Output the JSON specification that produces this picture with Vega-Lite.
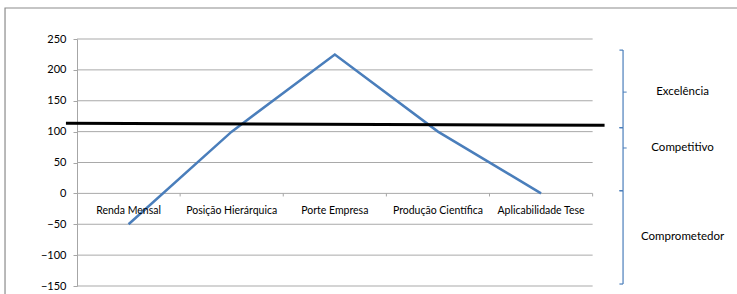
{
  "$schema": "https://vega.github.io/schema/vega-lite/v6.json",
  "width": 660,
  "height": 247,
  "autosize": {"type": "none"},
  "padding": {"left": 77, "top": 39, "right": 0, "bottom": 8},
  "background": "white",
  "config": {"view": {"stroke": null}, "font": "Lato", "text": {"font": "Lato"}},
  "resolve": {"axis": {"x": "independent", "y": "independent"}},
  "datasets": {
    "serie": [
      {"categoria": "Renda Mensal", "ordem": 1, "valor": -50},
      {"categoria": "Posição Hierárquica", "ordem": 2, "valor": 100},
      {"categoria": "Porte Empresa", "ordem": 3, "valor": 225},
      {"categoria": "Produção Científica", "ordem": 4, "valor": 100},
      {"categoria": "Aplicabilidade Tese", "ordem": 5, "valor": 0}
    ],
    "grade": [{"v": -150}, {"v": -100}, {"v": -50}, {"v": 0}, {"v": 50}, {"v": 100}, {"v": 150}, {"v": 200}, {"v": 250}],
    "limites": [{"x": 1.5}, {"x": 2.5}, {"x": 3.5}, {"x": 4.5}, {"x": 5.5}],
    "referencia": [{"ordem": 0.393, "valor": 113.5}, {"ordem": 5.616, "valor": 110.3}],
    "zonas": [
      {"zona": "Excelência", "topo": 232, "base": 106.4, "rotulo": 164},
      {"zona": "Competitivo", "topo": 106.4, "base": 4.3, "rotulo": 73.5},
      {"zona": "Comprometedor", "topo": 4.3, "base": -146.8, "rotulo": -70.6}
    ]
  },
  "layer": [
    {
      "data": {"values": [{}]},
      "mark": {"type": "rect", "fill": null, "stroke": "#8c8c8c", "strokeWidth": 1.2, "clip": false},
      "encoding": {
        "x": {"datum": -0.198, "type": "quantitative", "scale": {"domain": [0.5, 6.9], "nice": false, "zero": false}, "axis": null},
        "x2": {"datum": 7.5},
        "y": {"datum": 300.2, "type": "quantitative", "scale": {"domain": [-150, 250], "nice": false, "zero": false}, "axis": null},
        "y2": {"datum": -175}
      }
    },
    {
      "data": {"name": "grade"},
      "mark": {"type": "rule", "color": "#a9a9a9", "strokeWidth": 1},
      "encoding": {
        "y": {"field": "v", "type": "quantitative", "scale": {"domain": [-150, 250], "nice": false, "zero": false},
          "axis": {"values": [-150, -100, -50, 0, 50, 100, 150, 200, 250], "title": null, "grid": false,
            "domainColor": "#a6a6a6", "tickColor": "#a6a6a6", "tickSize": 4, "labelPadding": 7,
            "labelFont": "Lato", "labelFontSize": 11, "labelColor": "#000000"}},
        "x": {"datum": 0.5, "type": "quantitative", "scale": {"domain": [0.5, 6.9], "nice": false, "zero": false}, "axis": null},
        "x2": {"datum": 5.5}
      }
    },
    {
      "data": {"name": "limites"},
      "mark": {"type": "rule", "color": "#a6a6a6", "strokeWidth": 1},
      "encoding": {
        "x": {"field": "x", "type": "quantitative", "scale": {"domain": [0.5, 6.9], "nice": false, "zero": false}, "axis": null},
        "y": {"datum": 0, "type": "quantitative", "scale": {"domain": [-150, 250], "nice": false, "zero": false}, "axis": null},
        "y2": {"datum": -5}
      }
    },
    {
      "data": {"name": "serie"},
      "mark": {"type": "line", "color": "#4a7ebb", "strokeWidth": 2.5},
      "encoding": {
        "x": {"field": "ordem", "type": "quantitative", "scale": {"domain": [0.5, 6.9], "nice": false, "zero": false}, "axis": null},
        "y": {"field": "valor", "type": "quantitative", "scale": {"domain": [-150, 250], "nice": false, "zero": false}, "axis": null}
      }
    },
    {
      "data": {"name": "referencia"},
      "mark": {"type": "line", "color": "#000000", "strokeWidth": 3, "clip": false},
      "encoding": {
        "x": {"field": "ordem", "type": "quantitative", "scale": {"domain": [0.5, 6.9], "nice": false, "zero": false}, "axis": null},
        "y": {"field": "valor", "type": "quantitative", "scale": {"domain": [-150, 250], "nice": false, "zero": false}, "axis": null}
      }
    },
    {
      "data": {"name": "serie"},
      "mark": {"type": "text", "dy": 18, "fontSize": 10.5, "font": "Lato", "color": "#000000"},
      "encoding": {
        "x": {"field": "ordem", "type": "quantitative", "scale": {"domain": [0.5, 6.9], "nice": false, "zero": false}, "axis": null},
        "y": {"datum": 0, "type": "quantitative", "scale": {"domain": [-150, 250], "nice": false, "zero": false}, "axis": null},
        "text": {"field": "categoria"}
      }
    },
    {
      "data": {"name": "zonas"},
      "mark": {"type": "rule", "color": "#4a7ebb", "strokeWidth": 1.2},
      "encoding": {
        "x": {"datum": 5.795, "type": "quantitative", "scale": {"domain": [0.5, 6.9], "nice": false, "zero": false}, "axis": null},
        "y": {"field": "topo", "type": "quantitative", "scale": {"domain": [-150, 250], "nice": false, "zero": false}, "axis": null},
        "y2": {"field": "base"}
      }
    },
    {
      "data": {"name": "zonas"},
      "mark": {"type": "rule", "color": "#4a7ebb", "strokeWidth": 1.2},
      "encoding": {
        "x": {"datum": 5.76, "type": "quantitative", "scale": {"domain": [0.5, 6.9], "nice": false, "zero": false}, "axis": null},
        "x2": {"datum": 5.795},
        "y": {"field": "topo", "type": "quantitative", "scale": {"domain": [-150, 250], "nice": false, "zero": false}, "axis": null}
      }
    },
    {
      "data": {"name": "zonas"},
      "mark": {"type": "rule", "color": "#4a7ebb", "strokeWidth": 1.2},
      "encoding": {
        "x": {"datum": 5.76, "type": "quantitative", "scale": {"domain": [0.5, 6.9], "nice": false, "zero": false}, "axis": null},
        "x2": {"datum": 5.795},
        "y": {"field": "base", "type": "quantitative", "scale": {"domain": [-150, 250], "nice": false, "zero": false}, "axis": null}
      }
    },
    {
      "data": {"name": "zonas"},
      "transform": [{"filter": "datum.zona != 'Comprometedor'"}],
      "mark": {"type": "rule", "color": "#4a7ebb", "strokeWidth": 1},
      "encoding": {
        "x": {"datum": 5.795, "type": "quantitative", "scale": {"domain": [0.5, 6.9], "nice": false, "zero": false}, "axis": null},
        "x2": {"datum": 5.83},
        "y": {"field": "rotulo", "type": "quantitative", "scale": {"domain": [-150, 250], "nice": false, "zero": false}, "axis": null}
      }
    },
    {
      "data": {"name": "zonas"},
      "mark": {"type": "text", "align": "center", "baseline": "middle", "fontSize": 11.5, "font": "Lato", "color": "#000000"},
      "encoding": {
        "x": {"datum": 6.372, "type": "quantitative", "scale": {"domain": [0.5, 6.9], "nice": false, "zero": false}, "axis": null},
        "y": {"field": "rotulo", "type": "quantitative", "scale": {"domain": [-150, 250], "nice": false, "zero": false}, "axis": null},
        "text": {"field": "zona"}
      }
    }
  ]
}
